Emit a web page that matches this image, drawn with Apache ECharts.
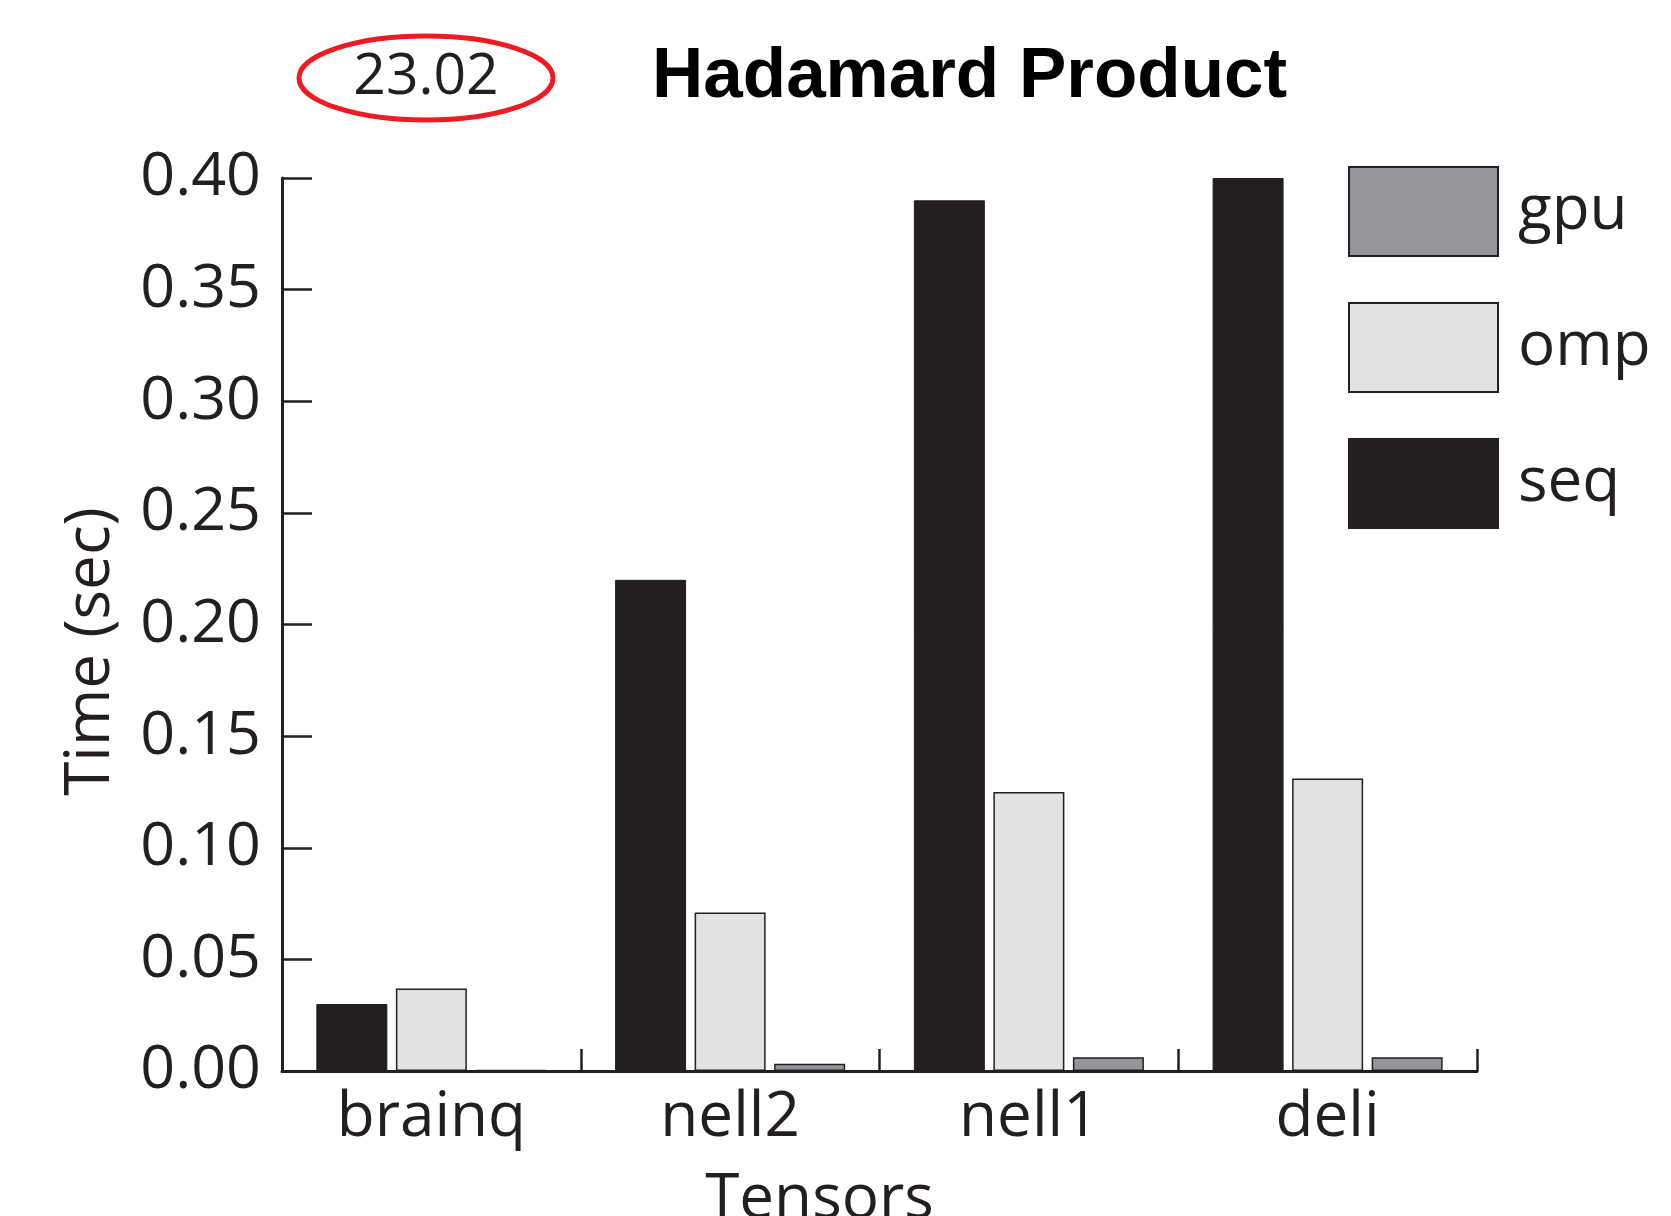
<!DOCTYPE html>
<html>
<head>
<meta charset="utf-8">
<script src="https://cdn.jsdelivr.net/npm/echarts@6/dist/echarts.min.js"></script>
<style>
  html, body { margin: 0; padding: 0; background: #fff; }
  #chart { width: 1671px; height: 1216px; }
</style>
</head>
<body>
<div id="chart"></div>
<script>
// data
const categories = ['brainq', 'nell2', 'nell1', 'deli'];
const seqTimes = [0.030, 0.220, 0.390, 0.400];
const ompTimes = [0.037, 0.071, 0.125, 0.131];
const gpuTimes = [0.0005, 0.0033, 0.0062, 0.0062];
const yTicks = [0, 0.05, 0.10, 0.15, 0.20, 0.25, 0.30, 0.35, 0.40];
const badgeText = '23.02';

const ink = '#231f20';
const font = '"Open Sans", "DejaVu Sans", sans-serif';

const chart = echarts.init(document.getElementById('chart'));

const option = {
  backgroundColor: '#ffffff',
  animation: false,
  title: {
    text: 'Hadamard Product',
    left: 647,
    top: 37,
    textStyle: {
      fontFamily: '"Liberation Sans", Arial, sans-serif',
      fontWeight: 'bold',
      fontSize: 71,
      color: '#000'
    }
  },
  legend: {
    orient: 'vertical',
    left: 1343,
    top: 161,
    itemWidth: 149,
    itemHeight: 89,
    itemGap: 45,
    icon: 'rect',
    data: ['gpu', 'omp', 'seq'],
    textStyle: {
      fontFamily: font,
      fontSize: 62,
      color: ink,
      padding: [0, 0, 0, 15]
    }
  },
  grid: {
    left: 282,
    right: 194,
    top: 178,
    bottom: 145,
    outerBoundsMode: 'none'
  },
  xAxis: {
    type: 'category',
    data: categories,
    name: 'Tensors',
    nameLocation: 'middle',
    nameGap: 98,
    nameTextStyle: {
      fontFamily: font,
      fontSize: 62,
      color: ink,
      padding: [0, 120, 0, 0]
    },
    axisLine: { lineStyle: { color: ink, width: 3 } },
    axisTick: { show: true, inside: true, length: 22, lineStyle: { color: ink, width: 2.5 } },
    axisLabel: {
      fontFamily: font,
      fontSize: 62,
      color: ink,
      margin: 16
    }
  },
  yAxis: {
    type: 'value',
    min: yTicks[0],
    max: yTicks[yTicks.length - 1],
    interval: 0.05,
    name: 'Time (sec)',
    nameLocation: 'middle',
    nameGap: 160,
    nameTextStyle: {
      fontFamily: font,
      fontSize: 62,
      color: ink,
      padding: [0, 54, 0, 0]
    },
    axisLine: { show: true, lineStyle: { color: ink, width: 3 } },
    axisTick: { show: true, inside: true, length: 30, lineStyle: { color: ink, width: 2.5 } },
    splitLine: { show: false },
    axisLabel: {
      fontFamily: font,
      fontSize: 61,
      color: ink,
      margin: 21,
      formatter: v => v.toFixed(2)
    }
  },
  series: [
    {
      name: 'seq',
      type: 'bar',
      data: seqTimes,
      barWidth: 71,
      barGap: '12%',
      itemStyle: { color: ink, borderColor: ink, borderWidth: 1 }
    },
    {
      name: 'omp',
      type: 'bar',
      data: ompTimes,
      barWidth: 71,
      barGap: '12%',
      itemStyle: { color: '#e1e2e3', borderColor: ink, borderWidth: 1.5 }
    },
    {
      name: 'gpu',
      type: 'bar',
      data: gpuTimes,
      barWidth: 71,
      barGap: '12%',
      itemStyle: { color: '#939598', borderColor: ink, borderWidth: 1.5 }
    }
  ],
  graphic: [
    {
      type: 'ellipse',
      shape: { cx: 426, cy: 78, rx: 127, ry: 42 },
      style: { fill: 'none', stroke: '#ed1c24', lineWidth: 5 }
    },
    {
      type: 'text',
      x: 426,
      y: 78,
      style: {
        text: badgeText,
        fontFamily: font,
        fontSize: 57,
        fill: ink,
        align: 'center',
        verticalAlign: 'middle'
      }
    }
  ]
};

chart.setOption(option);
</script>
</body>
</html>
